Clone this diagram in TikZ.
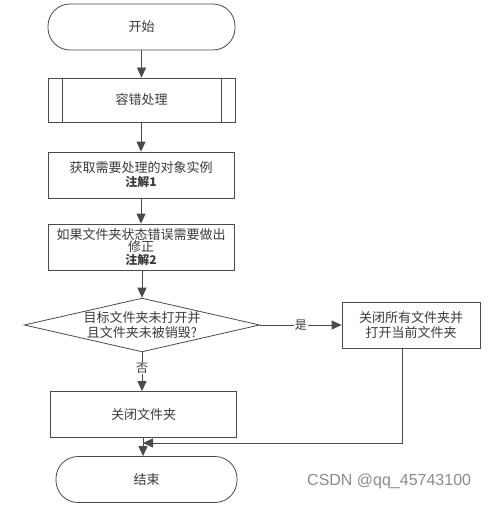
\documentclass[tikz,border=0pt]{standalone}
\usepackage{fontspec}
\setmainfont{Noto Sans CJK SC}
\newfontfamily\wmfont{Liberation Sans}
\usetikzlibrary{shapes.geometric,arrows.meta,calc}
\definecolor{ln}{HTML}{4A4A4A}
\definecolor{tx}{HTML}{3A3A3A}
\begin{document}
\begin{tikzpicture}[x=1pt,y=-1pt,
  every node/.style={font=\fontsize{13}{15}\selectfont, text=tx},
  base/.style={draw=ln, line width=0.8pt, fill=white, align=center, inner sep=2pt},
  term/.style={base, rectangle, rounded corners=22pt, minimum width=187pt, minimum height=46pt},
  procbox/.style={base, rectangle, minimum width=186pt, minimum height=46pt},
  decide/.style={base, diamond, aspect=4.38, inner sep=0pt, minimum width=232pt, minimum height=53pt},
  conn/.style={draw=ln, line width=0.8pt, -{Triangle[length=10pt,width=9pt]}},
  plain/.style={draw=ln, line width=0.8pt},
  lbl/.style={fill=white, inner sep=1pt, font=\fontsize{12}{13}\selectfont}
]
\useasboundingbox (0,0) rectangle (491,508);
\fill[white] (0,0) rectangle (491,508);

\node[term] (start) at (141.5,27) {开始};
\node[procbox, minimum width=187pt, minimum height=44pt] (fault) at (141.5,100) {容错处理};
\draw[plain] ($(fault.north west)+(15,0)$) -- ($(fault.south west)+(15,0)$);
\draw[plain] ($(fault.north east)+(-14,0)$) -- ($(fault.south east)+(-14,0)$);
\node[procbox] (get) at (141,175) {获取需要处理的对象实例\\[-1pt]{\fontsize{12}{13}\selectfont\bfseries 注解1}};
\node[procbox, minimum height=46pt, inner sep=0pt, font=\fontsize{13}{12.5}\selectfont] (fix) at (141,247) {如果文件夹状态错误需要做出\\修正\\{\fontsize{12}{12.5}\selectfont\bfseries 注解2}};
\node[decide] (dec) at (142,325) {目标文件夹未打开并\\且文件夹未被销毁?};
\node[procbox, minimum width=138pt, minimum height=46pt] (openall) at (411,325) {关闭所有文件夹并\\打开当前文件夹};
\node[procbox] (close) at (143.5,414.5) {关闭文件夹};
\node[term, minimum width=181pt] (end) at (146.5,479.5) {结束};
\coordinate (merge) at (143,443);

\draw[conn] (start) -- (fault);
\draw[conn] (fault.south -| get.north) -- (get);
\draw[conn] (get) -- (fix);
\draw[conn] (fix.south -| dec.north) -- (dec.north);
\draw[conn] (dec.east) -- node[lbl]{是} (openall.west);
\draw[conn] (dec.south) -- node[lbl, pos=0.4]{否} (dec.south |- close.north);
\draw[conn] (openall.south -| 402,0) |- (merge);
\draw[conn] (close.south -| merge) -- (end.north -| merge);

\node[font=\wmfont\fontsize{16}{18}\selectfont, text=black!45, anchor=west, inner sep=0pt] (wm) at (307,481) {CSDN @qq\_45743100};
\end{tikzpicture}
\end{document}
